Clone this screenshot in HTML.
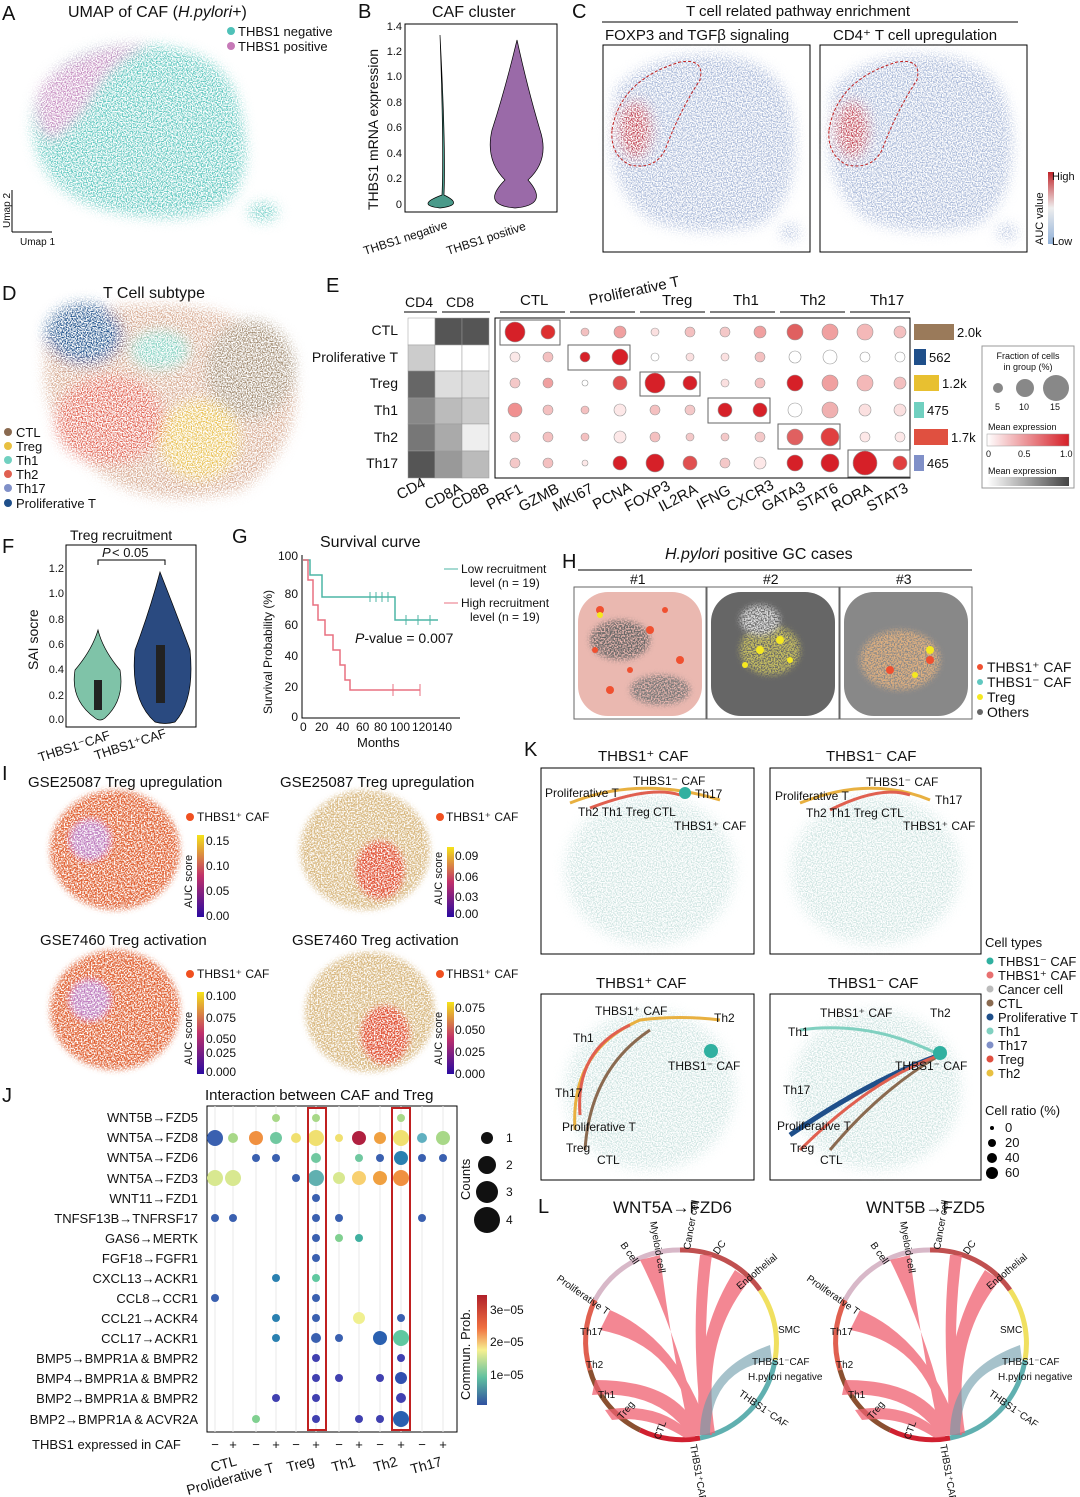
<!DOCTYPE html>
<html><head><meta charset="utf-8"><style>
html,body{margin:0;padding:0;background:#fff}
svg{display:block;font-family:"Liberation Sans",sans-serif}
</style></head><body>
<svg width="1080" height="1497" viewBox="0 0 1080 1497" xmlns="http://www.w3.org/2000/svg">
<defs>
<filter id="bl" x="-20%" y="-20%" width="140%" height="140%"><feGaussianBlur stdDeviation="6" result="b"/><feTurbulence type="fractalNoise" baseFrequency="0.8" numOctaves="1" seed="3" result="n"/><feColorMatrix in="n" type="matrix" values="0 0 0 0 0  0 0 0 0 0  0 0 0 0 0  0 0 0 4 -1.6" result="m"/><feComposite in="b" in2="m" operator="in"/></filter>
<filter id="bl2"><feGaussianBlur stdDeviation="3" result="b"/><feTurbulence type="fractalNoise" baseFrequency="0.7" numOctaves="1" seed="5" result="n"/><feColorMatrix in="n" type="matrix" values="0 0 0 0 0  0 0 0 0 0  0 0 0 0 0  0 0 0 4 -1.4" result="m"/><feComposite in="b" in2="m" operator="in"/></filter>
<linearGradient id="rb" x1="0" y1="0" x2="0" y2="1"><stop offset="0" stop-color="#c0242a"/><stop offset="0.5" stop-color="#eee"/><stop offset="1" stop-color="#8fb0d8"/></linearGradient>
<linearGradient id="pl" x1="0" y1="0" x2="0" y2="1"><stop offset="0" stop-color="#f5e31a"/><stop offset="0.5" stop-color="#c0306a"/><stop offset="1" stop-color="#2a0aa0"/></linearGradient>
<linearGradient id="sp" x1="0" y1="0" x2="0" y2="1"><stop offset="0" stop-color="#b0202a"/><stop offset="0.3" stop-color="#f07040"/><stop offset="0.5" stop-color="#f7f090"/><stop offset="0.75" stop-color="#60c0a0"/><stop offset="1" stop-color="#3050a0"/></linearGradient>
<linearGradient id="me" x1="0" x2="1"><stop offset="0" stop-color="#fff"/><stop offset="1" stop-color="#d62028"/></linearGradient>
<linearGradient id="mg" x1="0" x2="1"><stop offset="0" stop-color="#fff"/><stop offset="1" stop-color="#444"/></linearGradient>
</defs>
<g font-size="13" fill="#111">
<!-- A -->
<text x="2" y="20" font-size="20">A</text>
<text x="68" y="17" font-size="16">UMAP of CAF (<tspan font-style="italic">H.pylori</tspan>+)</text>
<circle cx="231" cy="31" r="4" fill="#4fc1b8"/><text x="238" y="36">THBS1 negative</text>
<circle cx="231" cy="46" r="4" fill="#c77ab8"/><text x="238" y="51">THBS1 positive</text>
<g filter="url(#bl)">
<path d="M40 90 Q70 40 150 45 Q230 50 240 110 Q255 170 230 200 Q200 225 130 215 Q60 205 40 160 Q25 120 40 90Z" fill="#5cc6be"/>
<path d="M40 90 Q70 45 150 45 Q110 60 90 100 Q70 130 50 140 Q30 120 40 90Z" fill="#c58ac0"/>
<ellipse cx="263" cy="212" rx="15" ry="9" fill="#5cc6be"/>
</g>
<path d="M12 232 V190 M12 232 H52" stroke="#000" fill="none"/>
<text x="10" y="228" font-size="10" transform="rotate(-90 10 228)">Umap 2</text><text x="20" y="245" font-size="10">Umap 1</text>
<!-- B -->
<text x="358" y="18" font-size="20">B</text><text x="432" y="17" font-size="16">CAF cluster</text>
<rect x="405" y="24" width="152" height="188" fill="none" stroke="#000"/>
<text x="378" y="210" font-size="14" transform="rotate(-90 378 210)">THBS1 mRNA expression</text>
<g font-size="11" text-anchor="end"><text x="402" y="208">0</text><text x="402" y="182">0.2</text><text x="402" y="157">0.4</text><text x="402" y="131">0.6</text><text x="402" y="106">0.8</text><text x="402" y="80">1.0</text><text x="402" y="55">1.2</text><text x="402" y="30">1.4</text></g>
<path d="M440 35 Q444 150 442 195 Q415 205 440 208 Q465 205 444 195 Q446 150 440 35Z" fill="#4a9a8a" stroke="#000" stroke-width=".7"/>
<path d="M517 40 Q505 90 492 130 Q485 160 505 180 Q480 205 515 208 Q550 205 528 180 Q550 160 540 130 Q528 90 517 40Z" fill="#9a6aa8" stroke="#000" stroke-width=".7"/>
<text x="365" y="255" font-size="12" transform="rotate(-18 365 255)">THBS1 negative</text>
<text x="448" y="255" font-size="12" transform="rotate(-18 448 255)">THBS1 positive</text>
<!-- C -->
<text x="572" y="18" font-size="20">C</text><text x="686" y="16" font-size="15">T cell related pathway enrichment</text>
<line x1="602" y1="22" x2="1018" y2="22" stroke="#000"/>
<text x="605" y="40" font-size="15">FOXP3 and TGFβ signaling</text><text x="833" y="40" font-size="15">CD4⁺ T cell upregulation</text>
<g>
<rect x="603" y="45" width="207" height="207" fill="none" stroke="#000"/>
<rect x="820" y="45" width="207" height="207" fill="none" stroke="#000"/>
<g filter="url(#bl)">
<path d="M615 90 Q650 50 720 55 Q790 60 795 130 Q800 200 760 225 Q700 240 650 220 Q610 190 612 140Z" fill="#a8b8d8"/>
<path d="M832 90 Q867 50 937 55 Q1007 60 1012 130 Q1017 200 977 225 Q917 240 867 220 Q827 190 829 140Z" fill="#a8b8d8"/>
<ellipse cx="635" cy="130" rx="18" ry="30" fill="#c04050"/><ellipse cx="852" cy="130" rx="18" ry="30" fill="#c04050"/>
<ellipse cx="790" cy="232" rx="10" ry="8" fill="#a8b8d8"/><ellipse cx="1007" cy="232" rx="10" ry="8" fill="#a8b8d8"/>
</g>
<path d="M612 130 Q620 80 680 62 Q705 58 700 80 Q680 110 665 150 Q655 170 630 165 Q610 155 612 130Z" fill="none" stroke="#c02020" stroke-dasharray="3 2"/>
<path d="M829 130 Q837 80 897 62 Q922 58 917 80 Q897 110 882 150 Q872 170 847 165 Q827 155 829 130Z" fill="none" stroke="#c02020" stroke-dasharray="3 2"/>
<rect x="1048" y="172" width="6" height="72" fill="url(#rb)"/>
<text x="1052" y="180" font-size="11">High</text><text x="1052" y="245" font-size="11">Low</text>
<text x="1043" y="245" font-size="11" transform="rotate(-90 1043 245)">AUC value</text>
</g>
<!-- D -->
<text x="2" y="300" font-size="20">D</text><text x="103" y="298" font-size="16">T Cell subtype</text>
<g filter="url(#bl)">
<path d="M45 340 Q80 300 170 305 Q270 310 295 380 Q300 450 240 490 Q160 510 110 480 Q50 440 45 380Z" fill="#d4a58a"/>
<ellipse cx="85" cy="335" rx="40" ry="32" fill="#1f4f8a"/>
<ellipse cx="250" cy="370" rx="45" ry="50" fill="#a08a70"/>
<ellipse cx="200" cy="440" rx="40" ry="40" fill="#e8c050"/>
<ellipse cx="110" cy="420" rx="55" ry="45" fill="#e06050"/>
<ellipse cx="160" cy="350" rx="30" ry="20" fill="#80d0c0"/>
</g>
<g font-size="13"><circle cx="8" cy="432" r="4" fill="#8a6a50"/><text x="16" y="437">CTL</text>
<circle cx="8" cy="446" r="4" fill="#e8c040"/><text x="16" y="451">Treg</text>
<circle cx="8" cy="460" r="4" fill="#70d0c0"/><text x="16" y="465">Th1</text>
<circle cx="8" cy="474" r="4" fill="#e06050"/><text x="16" y="479">Th2</text>
<circle cx="8" cy="488" r="4" fill="#8090c8"/><text x="16" y="493">Th17</text>
<circle cx="8" cy="503" r="4" fill="#1f4f8a"/><text x="16" y="508">Proliferative T</text></g>
<!-- E -->
<text x="326" y="292" font-size="20">E</text>
<text x="405" y="307" font-size="14">CD4</text><text x="446" y="307" font-size="14">CD8</text>
<line x1="404" y1="312" x2="437" y2="312" stroke="#000"/><line x1="442" y1="312" x2="490" y2="312" stroke="#000"/>
<g font-size="14" text-anchor="end"><text x="398" y="335">CTL</text><text x="398" y="362">Proliferative T</text><text x="398" y="388">Treg</text><text x="398" y="415">Th1</text><text x="398" y="442">Th2</text><text x="398" y="468">Th17</text></g>
<g stroke="#999" stroke-width=".5">
<rect x="408" y="318" width="27" height="27" fill="#fff"/><rect x="435" y="318" width="27" height="27" fill="#555"/><rect x="462" y="318" width="27" height="27" fill="#555"/>
<rect x="408" y="345" width="27" height="26" fill="#ccc"/><rect x="435" y="345" width="27" height="26" fill="#fff"/><rect x="462" y="345" width="27" height="26" fill="#fff"/>
<rect x="408" y="371" width="27" height="27" fill="#666"/><rect x="435" y="371" width="27" height="27" fill="#ddd"/><rect x="462" y="371" width="27" height="27" fill="#ddd"/>
<rect x="408" y="398" width="27" height="26" fill="#888"/><rect x="435" y="398" width="27" height="26" fill="#bbb"/><rect x="462" y="398" width="27" height="26" fill="#ccc"/>
<rect x="408" y="424" width="27" height="27" fill="#777"/><rect x="435" y="424" width="27" height="27" fill="#aaa"/><rect x="462" y="424" width="27" height="27" fill="#eee"/>
<rect x="408" y="451" width="27" height="27" fill="#555"/><rect x="435" y="451" width="27" height="27" fill="#999"/><rect x="462" y="451" width="27" height="27" fill="#bbb"/>
</g>
<rect x="495" y="318" width="415" height="160" fill="none" stroke="#000"/>
<g font-size="15"><text x="520" y="305">CTL</text><text x="590" y="305" transform="rotate(-12 590 305)">Proliferative T</text><text x="662" y="305">Treg</text><text x="733" y="305">Th1</text><text x="800" y="305">Th2</text><text x="870" y="305">Th17</text></g>
<g stroke="#000"><line x1="500" y1="312" x2="565" y2="312"/><line x1="570" y1="312" x2="635" y2="312"/><line x1="640" y1="312" x2="705" y2="312"/><line x1="710" y1="312" x2="775" y2="312"/><line x1="780" y1="312" x2="845" y2="312"/><line x1="850" y1="312" x2="910" y2="312"/></g>
<g stroke="#999" stroke-width=".6">
<circle cx="515" cy="332" r="10" fill="#d62028"/><circle cx="548" cy="332" r="7" fill="#dd3030"/><circle cx="585" cy="332" r="4" fill="#f3c0c0"/><circle cx="620" cy="332" r="6" fill="#f0a0a0"/><circle cx="655" cy="332" r="4" fill="#fbe0e0"/><circle cx="690" cy="332" r="5" fill="#f4c0c0"/><circle cx="725" cy="332" r="5" fill="#f4c8c8"/><circle cx="760" cy="332" r="6" fill="#f0a0a0"/><circle cx="795" cy="332" r="8" fill="#e06060"/><circle cx="830" cy="332" r="8" fill="#f0a0a0"/><circle cx="865" cy="332" r="8" fill="#f4b8b8"/><circle cx="900" cy="332" r="6" fill="#f4c0c0"/>
<circle cx="515" cy="357" r="5" fill="#fbe8e8"/><circle cx="548" cy="357" r="5" fill="#f4c0c0"/><circle cx="585" cy="357" r="5" fill="#d62028"/><circle cx="620" cy="357" r="8" fill="#d62028"/><circle cx="655" cy="357" r="4" fill="#fff"/><circle cx="690" cy="357" r="4" fill="#fbe0e0"/><circle cx="725" cy="357" r="4" fill="#fbe0e0"/><circle cx="760" cy="357" r="5" fill="#f4c0c0"/><circle cx="795" cy="357" r="6" fill="#fff"/><circle cx="830" cy="357" r="7" fill="#fff"/><circle cx="865" cy="357" r="5" fill="#fff"/><circle cx="900" cy="357" r="5" fill="#fff"/>
<circle cx="515" cy="383" r="5" fill="#f4c8c8"/><circle cx="548" cy="383" r="5" fill="#f0a0a0"/><circle cx="585" cy="383" r="3" fill="#fff"/><circle cx="620" cy="383" r="7" fill="#e05050"/><circle cx="655" cy="383" r="10" fill="#d62028"/><circle cx="690" cy="383" r="7" fill="#d62028"/><circle cx="725" cy="383" r="4" fill="#fbe0e0"/><circle cx="760" cy="383" r="5" fill="#f4c0c0"/><circle cx="795" cy="383" r="8" fill="#d62028"/><circle cx="830" cy="383" r="8" fill="#f0a0a0"/><circle cx="865" cy="383" r="8" fill="#f4b8b8"/><circle cx="900" cy="383" r="6" fill="#f4c0c0"/>
<circle cx="515" cy="410" r="7" fill="#f09090"/><circle cx="548" cy="410" r="5" fill="#f4c0c0"/><circle cx="585" cy="410" r="4" fill="#f4c0c0"/><circle cx="620" cy="410" r="6" fill="#fde8e8"/><circle cx="655" cy="410" r="5" fill="#f4c0c0"/><circle cx="690" cy="410" r="5" fill="#f4c8c8"/><circle cx="725" cy="410" r="7" fill="#d62028"/><circle cx="760" cy="410" r="7" fill="#d62028"/><circle cx="795" cy="410" r="7" fill="#fff"/><circle cx="830" cy="410" r="8" fill="#f0b0b0"/><circle cx="865" cy="410" r="6" fill="#fbe0e0"/><circle cx="900" cy="410" r="6" fill="#fbe0e0"/>
<circle cx="515" cy="437" r="5" fill="#f4c8c8"/><circle cx="548" cy="437" r="5" fill="#f4c0c0"/><circle cx="585" cy="437" r="4" fill="#f4c0c0"/><circle cx="620" cy="437" r="6" fill="#fde8e8"/><circle cx="655" cy="437" r="5" fill="#f4c0c0"/><circle cx="690" cy="437" r="4" fill="#f4c8c8"/><circle cx="725" cy="437" r="4" fill="#f4c8c8"/><circle cx="760" cy="437" r="5" fill="#f4c8c8"/><circle cx="795" cy="437" r="8" fill="#e06060"/><circle cx="830" cy="437" r="9" fill="#e04040"/><circle cx="865" cy="437" r="5" fill="#fde8e8"/><circle cx="900" cy="437" r="5" fill="#fde8e8"/>
<circle cx="515" cy="463" r="5" fill="#f4c8c8"/><circle cx="548" cy="463" r="5" fill="#f4c0c0"/><circle cx="585" cy="463" r="3" fill="#fde8e8"/><circle cx="620" cy="463" r="7" fill="#d62028"/><circle cx="655" cy="463" r="9" fill="#d62028"/><circle cx="690" cy="463" r="7" fill="#e05050"/><circle cx="725" cy="463" r="5" fill="#f4c8c8"/><circle cx="760" cy="463" r="6" fill="#fde8e8"/><circle cx="795" cy="463" r="8" fill="#d62028"/><circle cx="830" cy="463" r="9" fill="#d62028"/><circle cx="865" cy="463" r="12" fill="#d62028"/><circle cx="900" cy="463" r="7" fill="#e04040"/>
</g>
<g fill="none" stroke="#666"><rect x="500" y="320" width="60" height="25"/><rect x="568" y="345" width="62" height="25"/><rect x="640" y="372" width="60" height="24"/><rect x="708" y="398" width="62" height="25"/><rect x="778" y="424" width="62" height="25"/><rect x="848" y="450" width="62" height="27"/></g>
<g font-size="15">
<text x="400" y="500" transform="rotate(-28 400 500)">CD4</text><text x="428" y="510" transform="rotate(-28 428 510)">CD8A</text><text x="455" y="510" transform="rotate(-28 455 510)">CD8B</text>
<text x="490" y="510" transform="rotate(-28 490 510)">PRF1</text><text x="522" y="512" transform="rotate(-28 522 512)">GZMB</text><text x="556" y="512" transform="rotate(-28 556 512)">MKI67</text><text x="596" y="510" transform="rotate(-28 596 510)">PCNA</text><text x="628" y="512" transform="rotate(-28 628 512)">FOXP3</text><text x="662" y="512" transform="rotate(-28 662 512)">IL2RA</text><text x="700" y="510" transform="rotate(-28 700 510)">IFNG</text><text x="730" y="512" transform="rotate(-28 730 512)">CXCR3</text><text x="765" y="512" transform="rotate(-28 765 512)">GATA3</text><text x="800" y="512" transform="rotate(-28 800 512)">STAT6</text><text x="835" y="512" transform="rotate(-28 835 512)">RORA</text><text x="870" y="512" transform="rotate(-28 870 512)">STAT3</text>
</g>
<rect x="914" y="324" width="40" height="16" fill="#9a7a5a"/><rect x="914" y="349" width="12" height="16" fill="#1f4f8a"/><rect x="914" y="375" width="25" height="16" fill="#e8c030"/><rect x="914" y="402" width="10" height="16" fill="#70d0c0"/><rect x="914" y="429" width="34" height="16" fill="#e05040"/><rect x="914" y="455" width="10" height="16" fill="#8090c8"/>
<g font-size="13"><text x="957" y="337">2.0k</text><text x="929" y="362">562</text><text x="942" y="388">1.2k</text><text x="927" y="415">475</text><text x="951" y="442">1.7k</text><text x="927" y="468">465</text></g>
<rect x="982" y="346" width="92" height="142" fill="none" stroke="#999"/>
<g font-size="9" text-anchor="middle"><text x="1028" y="359">Fraction of cells</text><text x="1028" y="370">in group (%)</text></g>
<circle cx="998" cy="388" r="5" fill="#888"/><circle cx="1025" cy="388" r="9" fill="#888"/><circle cx="1056" cy="388" r="13" fill="#888"/>
<g font-size="9"><text x="995" y="410">5</text><text x="1019" y="410">10</text><text x="1050" y="410">15</text><text x="988" y="430">Mean expression</text><text x="986" y="457">0</text><text x="1018" y="457">0.5</text><text x="1060" y="457">1.0</text><text x="988" y="474">Mean expression</text></g>
<rect x="987" y="434" width="82" height="12" fill="url(#me)" stroke="#999" stroke-width=".5"/>
<rect x="987" y="477" width="82" height="9" fill="url(#mg)"/>
<!-- F -->
<text x="2" y="553" font-size="20">F</text><text x="70" y="540" font-size="14">Treg recruitment</text>
<text x="102" y="557" font-size="13" font-style="italic">P</text><text x="112" y="557" font-size="13"> &lt; 0.05</text>
<path d="M98 565 V560 H165 V565" stroke="#000" fill="none"/>
<rect x="66" y="545" width="130" height="182" fill="none" stroke="#000"/>
<text x="38" y="670" font-size="14" transform="rotate(-90 38 670)">SAI socre</text>
<g font-size="11" text-anchor="end"><text x="64" y="723">0.0</text><text x="64" y="699">0.2</text><text x="64" y="673">0.4</text><text x="64" y="648">0.6</text><text x="64" y="623">0.8</text><text x="64" y="597">1.0</text><text x="64" y="572">1.2</text></g>
<path d="M98 630 Q92 650 75 670 Q70 700 95 718 Q100 722 105 718 Q125 700 120 670 Q103 650 98 630Z" fill="#7fc3a8" stroke="#000" stroke-width=".7"/>
<rect x="94" y="680" width="8" height="30" fill="#222"/>
<path d="M160 572 Q150 610 135 650 Q130 700 155 722 Q165 725 175 722 Q195 700 190 650 Q175 610 160 572Z" fill="#2a4a80" stroke="#000" stroke-width=".7"/>
<rect x="156" y="645" width="9" height="58" fill="#222"/>
<text x="40" y="762" font-size="13" transform="rotate(-18 40 762)">THBS1⁻CAF</text><text x="96" y="760" font-size="13" transform="rotate(-18 96 760)">THBS1⁺CAF</text>
<!-- G -->
<text x="232" y="543" font-size="20">G</text><text x="320" y="547" font-size="16">Survival curve</text>
<path d="M302 555 V718 H460" stroke="#000" fill="none"/>
<g font-size="12" text-anchor="end"><text x="298" y="560">100</text><text x="298" y="598">80</text><text x="298" y="629">60</text><text x="298" y="660">40</text><text x="298" y="691">20</text><text x="298" y="721">0</text></g>
<text x="272" y="714" font-size="12" transform="rotate(-90 272 714)">Survival Probability (%)</text>
<g font-size="12"><text x="300" y="731">0</text><text x="315" y="731">20</text><text x="336" y="731">40</text><text x="356" y="731">60</text><text x="374" y="731">80</text><text x="390" y="731">100</text><text x="412" y="731">120</text><text x="432" y="731">140</text></g>
<text x="357" y="747" font-size="13">Months</text>
<path d="M303 560 H310 V575 H322 V597 H395 V620 H438" stroke="#4db5a5" fill="none" stroke-width="1.5"/>
<path d="M370 592 V602 M376 592 V602 M382 592 V602 M388 592 V602 M406 615 V625 M418 615 V625 M430 615 V625" stroke="#4db5a5"/>
<path d="M303 560 H308 V580 H313 V605 H318 V620 H325 V635 H333 V650 H340 V665 H345 V680 H350 V690 H380 V690 H420" stroke="#e87080" fill="none" stroke-width="1.5"/>
<path d="M393 684 V696 M420 684 V696" stroke="#e87080"/>
<text x="355" y="643" font-size="14"><tspan font-style="italic">P</tspan>-value = 0.007</text>
<line x1="444" y1="569" x2="458" y2="569" stroke="#4db5a5"/><text x="461" y="573" font-size="12">Low recruitment</text><text x="470" y="587" font-size="12">level (n = 19)</text>
<line x1="444" y1="603" x2="458" y2="603" stroke="#e87080"/><text x="461" y="607" font-size="12">High recruitment</text><text x="470" y="621" font-size="12">level (n = 19)</text>
<!-- H -->
<text x="562" y="568" font-size="20">H</text><text x="665" y="559" font-size="16" font-style="italic">H.pylori <tspan font-style="normal">positive GC cases</tspan></text>
<line x1="578" y1="570" x2="972" y2="570" stroke="#000"/>
<text x="630" y="584" font-size="14">#1</text><text x="763" y="584" font-size="14">#2</text><text x="896" y="584" font-size="14">#3</text>
<rect x="574" y="587" width="132" height="132" fill="none" stroke="#666"/><rect x="707" y="587" width="132" height="132" fill="none" stroke="#666"/><rect x="840" y="587" width="132" height="132" fill="none" stroke="#666"/>
<rect x="578" y="592" width="124" height="124" rx="30" fill="#eab8b0"/><rect x="711" y="592" width="124" height="124" rx="30" fill="#666"/><rect x="844" y="592" width="124" height="124" rx="30" fill="#888"/>
<g filter="url(#bl2)"><ellipse cx="620" cy="640" rx="30" ry="20" fill="#666"/><ellipse cx="660" cy="690" rx="30" ry="15" fill="#777"/><ellipse cx="770" cy="650" rx="30" ry="25" fill="#c8c060"/><ellipse cx="900" cy="660" rx="40" ry="30" fill="#e0b080"/><ellipse cx="760" cy="620" rx="20" ry="15" fill="#ddd"/></g>
<g fill="#f05030"><circle cx="600" cy="610" r="4"/><circle cx="650" cy="630" r="4"/><circle cx="680" cy="660" r="4"/><circle cx="610" cy="690" r="4"/><circle cx="630" cy="670" r="3"/><circle cx="890" cy="670" r="4"/><circle cx="930" cy="660" r="4"/><circle cx="665" cy="610" r="3"/><circle cx="595" cy="650" r="3"/></g>
<g fill="#f5e820"><circle cx="760" cy="650" r="4"/><circle cx="780" cy="640" r="4"/><circle cx="790" cy="660" r="3"/><circle cx="930" cy="650" r="4"/><circle cx="600" cy="615" r="3"/><circle cx="745" cy="665" r="3"/><circle cx="915" cy="675" r="3"/></g>
<g font-size="14"><circle cx="980" cy="667" r="3" fill="#f05030"/><text x="987" y="672">THBS1⁺ CAF</text><circle cx="980" cy="682" r="3" fill="#60c8c0"/><text x="987" y="687">THBS1⁻ CAF</text><circle cx="980" cy="697" r="3" fill="#f5e820"/><text x="987" y="702">Treg</text><circle cx="980" cy="712" r="3" fill="#666"/><text x="987" y="717">Others</text></g>
<!-- I -->
<text x="2" y="780" font-size="20">I</text>
<g font-size="15"><text x="28" y="787">GSE25087 Treg upregulation</text><text x="280" y="787">GSE25087 Treg upregulation</text><text x="40" y="945">GSE7460 Treg activation</text><text x="292" y="945">GSE7460 Treg activation</text></g>
<g filter="url(#bl2)">
<ellipse cx="115" cy="850" rx="65" ry="60" fill="#e06030"/><ellipse cx="365" cy="850" rx="65" ry="60" fill="#d8b880"/>
<ellipse cx="115" cy="1010" rx="65" ry="60" fill="#e06030"/><ellipse cx="370" cy="1012" rx="65" ry="60" fill="#d8b880"/>
<ellipse cx="380" cy="870" rx="25" ry="30" fill="#e05030"/><ellipse cx="385" cy="1035" rx="25" ry="30" fill="#e05030"/>
<ellipse cx="90" cy="840" rx="20" ry="20" fill="#c080c0"/><ellipse cx="90" cy="1000" rx="20" ry="20" fill="#c080c0"/>
</g>
<g font-size="12"><circle cx="190" cy="817" r="4" fill="#f05020"/><text x="197" y="821">THBS1⁺ CAF</text><circle cx="440" cy="817" r="4" fill="#f05020"/><text x="446" y="821">THBS1⁺ CAF</text>
<circle cx="190" cy="974" r="4" fill="#f05020"/><text x="197" y="978">THBS1⁺ CAF</text><circle cx="440" cy="974" r="4" fill="#f05020"/><text x="446" y="978">THBS1⁺ CAF</text></g>
<rect x="197" y="835" width="7" height="82" fill="url(#pl)"/><rect x="447" y="847" width="7" height="70" fill="url(#pl)"/>
<rect x="197" y="992" width="7" height="82" fill="url(#pl)"/><rect x="447" y="1002" width="7" height="72" fill="url(#pl)"/>
<g font-size="12"><text x="206" y="845">0.15</text><text x="206" y="870">0.10</text><text x="206" y="895">0.05</text><text x="206" y="920">0.00</text>
<text x="455" y="860">0.09</text><text x="455" y="881">0.06</text><text x="455" y="901">0.03</text><text x="455" y="918">0.00</text>
<text x="206" y="1000">0.100</text><text x="206" y="1022">0.075</text><text x="206" y="1043">0.050</text><text x="206" y="1057">0.025</text><text x="206" y="1076">0.000</text>
<text x="455" y="1012">0.075</text><text x="455" y="1034">0.050</text><text x="455" y="1056">0.025</text><text x="455" y="1078">0.000</text></g>
<g font-size="11"><text x="192" y="908" transform="rotate(-90 192 908)">AUC score</text><text x="442" y="905" transform="rotate(-90 442 905)">AUC score</text><text x="192" y="1065" transform="rotate(-90 192 1065)">AUC score</text><text x="442" y="1065" transform="rotate(-90 442 1065)">AUC score</text></g>
<!-- K -->
<text x="524" y="756" font-size="20">K</text>
<g font-size="15"><text x="598" y="761">THBS1⁺ CAF</text><text x="826" y="761">THBS1⁻ CAF</text><text x="596" y="988">THBS1⁺ CAF</text><text x="828" y="988">THBS1⁻ CAF</text></g>
<rect x="541" y="768" width="213" height="186" fill="none" stroke="#000"/><rect x="770" y="768" width="211" height="186" fill="none" stroke="#000"/>
<rect x="541" y="994" width="213" height="186" fill="none" stroke="#000"/><rect x="770" y="994" width="211" height="186" fill="none" stroke="#000"/>
<g filter="url(#bl)" opacity=".7"><ellipse cx="650" cy="870" rx="85" ry="75" fill="#b8d8d4"/><ellipse cx="876" cy="870" rx="85" ry="75" fill="#b8d8d4"/><ellipse cx="650" cy="1090" rx="85" ry="80" fill="#b8d8d4"/><ellipse cx="876" cy="1090" rx="85" ry="80" fill="#b8d8d4"/></g>
<g fill="none" stroke-width="3">
<path d="M570 803 Q640 775 720 800" stroke="#e8b040"/><path d="M590 808 Q650 785 680 795" stroke="#e06050"/><path d="M800 803 Q870 775 930 800" stroke="#e8b040"/><path d="M830 810 Q880 785 910 795" stroke="#e06050"/>
<path d="M575 1130 Q570 1050 640 1020 Q680 1015 720 1020" stroke="#e8b040"/><path d="M585 1150 Q590 1070 650 1030" stroke="#8a6a50"/><path d="M580 1115 Q575 1050 630 1025" stroke="#e06050"/>
<path d="M790 1135 Q870 1080 940 1055" stroke="#1f4f8a" stroke-width="5"/><path d="M830 1150 Q880 1090 940 1055" stroke="#8a6a50"/><path d="M800 1150 Q870 1080 940 1055" stroke="#e06050"/><path d="M800 1030 Q870 1020 940 1055" stroke="#80d0c0"/>
</g>
<circle cx="685" cy="793" r="6" fill="#30b0a0"/><circle cx="711" cy="1051" r="7" fill="#30b0a0"/><circle cx="940" cy="1053" r="7" fill="#30b0a0"/>
<g font-size="12"><text x="545" y="797">Proliferative T</text><text x="633" y="785">THBS1⁻ CAF</text><text x="695" y="798">Th17</text><text x="578" y="816">Th2  Th1  Treg  CTL</text><text x="674" y="830">THBS1⁺ CAF</text>
<text x="775" y="800">Proliferative T</text><text x="866" y="786">THBS1⁻ CAF</text><text x="935" y="804">Th17</text><text x="806" y="817">Th2 Th1   Treg   CTL</text><text x="903" y="830">THBS1⁺ CAF</text>
<text x="595" y="1015">THBS1⁺ CAF</text><text x="714" y="1022">Th2</text><text x="573" y="1042">Th1</text><text x="668" y="1070">THBS1⁻ CAF</text><text x="555" y="1097">Th17</text><text x="562" y="1131">Proliferative T</text><text x="566" y="1152">Treg</text><text x="597" y="1164">CTL</text>
<text x="820" y="1017">THBS1⁺ CAF</text><text x="930" y="1017">Th2</text><text x="788" y="1036">Th1</text><text x="895" y="1070">THBS1⁻ CAF</text><text x="783" y="1094">Th17</text><text x="777" y="1130">Proliferative T</text><text x="790" y="1152">Treg</text><text x="820" y="1164">CTL</text></g>
<g font-size="13"><text x="985" y="947">Cell types</text>
<circle cx="990" cy="961" r="3.5" fill="#30b0a0"/><text x="998" y="966">THBS1⁻ CAF</text>
<circle cx="990" cy="975" r="3.5" fill="#e87070"/><text x="998" y="980">THBS1⁺ CAF</text>
<circle cx="990" cy="989" r="3.5" fill="#bbb"/><text x="998" y="994">Cancer cell</text>
<circle cx="990" cy="1003" r="3.5" fill="#8a6a50"/><text x="998" y="1008">CTL</text>
<circle cx="990" cy="1017" r="3.5" fill="#1f4f8a"/><text x="998" y="1022">Proliferative T</text>
<circle cx="990" cy="1031" r="3.5" fill="#80d0c0"/><text x="998" y="1036">Th1</text>
<circle cx="990" cy="1045" r="3.5" fill="#8090c8"/><text x="998" y="1050">Th17</text>
<circle cx="990" cy="1059" r="3.5" fill="#e05040"/><text x="998" y="1064">Treg</text>
<circle cx="990" cy="1073" r="3.5" fill="#e8c040"/><text x="998" y="1078">Th2</text>
<text x="985" y="1115">Cell ratio (%)</text>
<circle cx="992" cy="1128" r="2" fill="#000"/><text x="1005" y="1132">0</text>
<circle cx="992" cy="1143" r="4" fill="#000"/><text x="1005" y="1147">20</text>
<circle cx="992" cy="1158" r="5" fill="#000"/><text x="1005" y="1162">40</text>
<circle cx="992" cy="1173" r="6" fill="#000"/><text x="1005" y="1177">60</text></g>
<!-- J -->
<text x="2" y="1102" font-size="20">J</text><text x="205" y="1100" font-size="15">Interaction between CAF and Treg</text>
<rect x="207" y="1106" width="250" height="326" fill="none" stroke="#000"/>
<g stroke="#e8e8e8"><line x1="215" y1="1106" x2="215" y2="1432"/><line x1="233" y1="1106" x2="233" y2="1432"/><line x1="256" y1="1106" x2="256" y2="1432"/><line x1="276" y1="1106" x2="276" y2="1432"/><line x1="296" y1="1106" x2="296" y2="1432"/><line x1="316" y1="1106" x2="316" y2="1432"/><line x1="339" y1="1106" x2="339" y2="1432"/><line x1="359" y1="1106" x2="359" y2="1432"/><line x1="380" y1="1106" x2="380" y2="1432"/><line x1="401" y1="1106" x2="401" y2="1432"/><line x1="422" y1="1106" x2="422" y2="1432"/><line x1="443" y1="1106" x2="443" y2="1432"/></g>
<g font-size="13" text-anchor="end"><text x="198" y="1122">WNT5B→FZD5</text><text x="198" y="1142">WNT5A→FZD8</text><text x="198" y="1162">WNT5A→FZD6</text><text x="198" y="1183">WNT5A→FZD3</text><text x="198" y="1203">WNT11→FZD1</text><text x="198" y="1223">TNFSF13B→TNFRSF17</text><text x="198" y="1243">GAS6→MERTK</text><text x="198" y="1263">FGF18→FGFR1</text><text x="198" y="1283">CXCL13→ACKR1</text><text x="198" y="1303">CCL8→CCR1</text><text x="198" y="1323">CCL21→ACKR4</text><text x="198" y="1343">CCL17→ACKR1</text><text x="198" y="1363">BMP5→BMPR1A &amp; BMPR2</text><text x="198" y="1383">BMP4→BMPR1A &amp; BMPR2</text><text x="198" y="1403">BMP2→BMPR1A &amp; BMPR2</text><text x="198" y="1424">BMP2→BMPR1A &amp; ACVR2A</text></g>
<g>
<circle cx="276" cy="1118" r="4" fill="#a8d888"/><circle cx="316" cy="1118" r="4" fill="#a8d888"/><circle cx="401" cy="1118" r="4" fill="#a8d888"/>
<circle cx="215" cy="1138" r="8" fill="#3a60b0"/><circle cx="233" cy="1138" r="5" fill="#a8d888"/><circle cx="256" cy="1138" r="7" fill="#f09040"/><circle cx="276" cy="1138" r="6" fill="#70c8a0"/><circle cx="296" cy="1138" r="5" fill="#f0e070"/><circle cx="316" cy="1138" r="8" fill="#f0e070"/><circle cx="339" cy="1138" r="4" fill="#f0e070"/><circle cx="359" cy="1138" r="7" fill="#b02040"/><circle cx="380" cy="1138" r="6" fill="#f0a040"/><circle cx="401" cy="1138" r="8" fill="#f0e070"/><circle cx="422" cy="1138" r="5" fill="#60b0c0"/><circle cx="443" cy="1138" r="7" fill="#a8d888"/>
<circle cx="256" cy="1158" r="4" fill="#3a60b0"/><circle cx="276" cy="1158" r="4" fill="#3a60b0"/><circle cx="316" cy="1158" r="5" fill="#70c8a0"/><circle cx="359" cy="1158" r="4" fill="#70c8a0"/><circle cx="380" cy="1158" r="4" fill="#3a60b0"/><circle cx="401" cy="1158" r="7" fill="#2a80b0"/><circle cx="422" cy="1158" r="4" fill="#3a60b0"/><circle cx="443" cy="1158" r="4" fill="#3a60b0"/>
<circle cx="215" cy="1178" r="8" fill="#d8e890"/><circle cx="233" cy="1178" r="8" fill="#d8e890"/><circle cx="296" cy="1178" r="4" fill="#3a60b0"/><circle cx="316" cy="1178" r="8" fill="#60b0b0"/><circle cx="339" cy="1178" r="6" fill="#d8e890"/><circle cx="359" cy="1178" r="7" fill="#f8d070"/><circle cx="380" cy="1178" r="7" fill="#f0a040"/><circle cx="401" cy="1178" r="8" fill="#f09040"/>
<circle cx="316" cy="1198" r="4" fill="#3a60b0"/>
<circle cx="215" cy="1218" r="4" fill="#3a60b0"/><circle cx="233" cy="1218" r="4" fill="#3a60b0"/><circle cx="316" cy="1218" r="4" fill="#3a60b0"/><circle cx="339" cy="1218" r="4" fill="#3a60b0"/><circle cx="422" cy="1218" r="4" fill="#3a60b0"/>
<circle cx="316" cy="1238" r="4" fill="#3a60b0"/><circle cx="339" cy="1238" r="4" fill="#80d090"/><circle cx="359" cy="1238" r="4" fill="#40b0a0"/>
<circle cx="316" cy="1258" r="4" fill="#3a60b0"/>
<circle cx="276" cy="1278" r="4" fill="#2a80b0"/><circle cx="316" cy="1278" r="4" fill="#60c8a0"/>
<circle cx="215" cy="1298" r="4" fill="#3a60b0"/><circle cx="316" cy="1298" r="4" fill="#3a60b0"/>
<circle cx="276" cy="1318" r="4" fill="#2a80b0"/><circle cx="316" cy="1318" r="4" fill="#3a60b0"/><circle cx="359" cy="1318" r="6" fill="#f0f090"/><circle cx="401" cy="1318" r="4" fill="#3a60b0"/>
<circle cx="276" cy="1338" r="4" fill="#2a80b0"/><circle cx="316" cy="1338" r="5" fill="#3a60b0"/><circle cx="339" cy="1338" r="4" fill="#3a60b0"/><circle cx="380" cy="1338" r="7" fill="#2a60b0"/><circle cx="401" cy="1338" r="8" fill="#60c8a0"/>
<circle cx="316" cy="1358" r="4" fill="#4040b0"/><circle cx="401" cy="1358" r="4" fill="#4040b0"/>
<circle cx="316" cy="1378" r="4" fill="#4040b0"/><circle cx="339" cy="1378" r="4" fill="#4040b0"/><circle cx="380" cy="1378" r="4" fill="#4040b0"/><circle cx="401" cy="1378" r="6" fill="#3050b0"/>
<circle cx="276" cy="1398" r="4" fill="#4040b0"/><circle cx="316" cy="1398" r="4" fill="#4040b0"/><circle cx="401" cy="1398" r="5" fill="#4040b0"/>
<circle cx="256" cy="1419" r="4" fill="#80d090"/><circle cx="316" cy="1419" r="4" fill="#4040b0"/><circle cx="359" cy="1419" r="4" fill="#4040b0"/><circle cx="380" cy="1419" r="4" fill="#4040b0"/><circle cx="401" cy="1419" r="8" fill="#2a60b0"/>
</g>
<rect x="308" y="1108" width="18" height="322" fill="none" stroke="#c02020" stroke-width="2"/><rect x="392" y="1108" width="18" height="322" fill="none" stroke="#c02020" stroke-width="2"/>
<text x="32" y="1449" font-size="13">THBS1 expressed in CAF</text>
<g font-size="13" text-anchor="middle"><text x="215" y="1449">−</text><text x="233" y="1449">+</text><text x="256" y="1449">−</text><text x="276" y="1449">+</text><text x="296" y="1449">−</text><text x="316" y="1449">+</text><text x="339" y="1449">−</text><text x="359" y="1449">+</text><text x="380" y="1449">−</text><text x="401" y="1449">+</text><text x="422" y="1449">−</text><text x="443" y="1449">+</text></g>
<g font-size="14"><text x="212" y="1472" transform="rotate(-15 212 1472)">CTL</text><text x="188" y="1495" transform="rotate(-15 188 1495)">Proliderative T</text><text x="288" y="1472" transform="rotate(-15 288 1472)">Treg</text><text x="333" y="1472" transform="rotate(-15 333 1472)">Th1</text><text x="375" y="1472" transform="rotate(-15 375 1472)">Th2</text><text x="412" y="1474" transform="rotate(-15 412 1474)">Th17</text></g>
<g><circle cx="487" cy="1138" r="6"/><circle cx="487" cy="1165" r="9"/><circle cx="487" cy="1192" r="11"/><circle cx="487" cy="1220" r="13"/></g>
<g font-size="12"><text x="506" y="1142">1</text><text x="506" y="1169">2</text><text x="506" y="1196">3</text><text x="506" y="1224">4</text></g>
<text x="470" y="1200" font-size="13" transform="rotate(-90 470 1200)">Counts</text>
<rect x="477" y="1295" width="10" height="110" fill="url(#sp)"/>
<g font-size="12"><text x="490" y="1314">3e−05</text><text x="490" y="1346">2e−05</text><text x="490" y="1379">1e−05</text></g>
<text x="470" y="1400" font-size="13" transform="rotate(-90 470 1400)">Commun. Prob.</text>
<!-- L -->
<text x="538" y="1213" font-size="20">L</text><text x="613" y="1213" font-size="17">WNT5A→FZD6</text><text x="866" y="1213" font-size="17">WNT5B→FZD5</text>
<g fill="none" stroke-width="5">
<path d="M595 1300 A95 95 0 0 1 680 1250" stroke="#d8b8c8"/><path d="M680 1250 A95 95 0 0 1 760 1290" stroke="#c05050"/><path d="M760 1290 A95 95 0 0 1 775 1360" stroke="#f0e060"/><path d="M775 1360 A95 95 0 0 1 700 1438" stroke="#60b0b0"/><path d="M700 1438 A95 95 0 0 1 640 1430" stroke="#d02030"/><path d="M640 1430 A95 95 0 0 1 590 1370" stroke="#8a5030"/><path d="M590 1370 A95 95 0 0 1 595 1300" stroke="#e06050"/>
<path d="M845 1300 A95 95 0 0 1 930 1250" stroke="#d8b8c8"/><path d="M930 1250 A95 95 0 0 1 1010 1290" stroke="#c05050"/><path d="M1010 1290 A95 95 0 0 1 1025 1360" stroke="#f0e060"/><path d="M1025 1360 A95 95 0 0 1 950 1438" stroke="#60b0b0"/><path d="M950 1438 A95 95 0 0 1 890 1430" stroke="#d02030"/><path d="M890 1430 A95 95 0 0 1 840 1370" stroke="#8a5030"/><path d="M840 1370 A95 95 0 0 1 845 1300" stroke="#e06050"/>
</g>
<g fill="#f06070" opacity=".75">
<path d="M600 1330 Q680 1345 695 1435 L710 1435 Q680 1340 610 1310Z"/><path d="M640 1260 Q680 1340 700 1435 L690 1435 Q670 1340 660 1255Z"/><path d="M735 1270 Q690 1340 700 1435 L715 1433 Q700 1340 750 1280Z"/><path d="M595 1380 Q680 1380 700 1435 L690 1437 Q660 1390 592 1395Z"/><path d="M605 1410 Q660 1400 695 1437 L685 1438 Q650 1415 612 1420Z"/><path d="M700 1255 Q690 1340 703 1435 L712 1435 Q700 1340 712 1255Z"/>
<path d="M850 1330 Q930 1345 945 1435 L960 1435 Q930 1340 860 1310Z"/><path d="M890 1260 Q930 1340 950 1435 L940 1435 Q920 1340 910 1255Z"/><path d="M985 1270 Q940 1340 950 1435 L965 1433 Q950 1340 1000 1280Z"/><path d="M845 1380 Q930 1380 950 1435 L940 1437 Q910 1390 842 1395Z"/><path d="M855 1410 Q910 1400 945 1437 L935 1438 Q900 1415 862 1420Z"/><path d="M950 1255 Q940 1340 953 1435 L962 1435 Q950 1340 962 1255Z"/>
</g>
<g fill="#6a9aa8" opacity=".6"><path d="M770 1345 Q700 1370 700 1435 L710 1435 Q710 1370 772 1360Z"/><path d="M1020 1345 Q950 1370 950 1435 L960 1435 Q960 1370 1022 1360Z"/></g>
<g font-size="10">
<text x="556" y="1280" transform="rotate(35 556 1280)">Proliferative T</text><text x="620" y="1245" transform="rotate(55 620 1245)">B cell</text><text x="650" y="1222" transform="rotate(80 650 1222)">Myeloid cell</text><text x="690" y="1250" transform="rotate(-80 690 1250)">Cancer cell</text><text x="718" y="1255" transform="rotate(-55 718 1255)">DC</text><text x="740" y="1290" transform="rotate(-40 740 1290)">Endothelial</text><text x="778" y="1333">SMC</text><text x="752" y="1365">THBS1⁻CAF</text><text x="748" y="1380">H.pylori negative</text><text x="738" y="1395" transform="rotate(35 738 1395)">THBS1⁻CAF</text><text x="580" y="1335">Th17</text><text x="586" y="1368">Th2</text><text x="598" y="1398">Th1</text><text x="622" y="1420" transform="rotate(-50 622 1420)">Treg</text><text x="660" y="1440" transform="rotate(-70 660 1440)">CTL</text><text x="690" y="1445" transform="rotate(80 690 1445)">THBS1⁺CAF</text>
<text x="806" y="1280" transform="rotate(35 806 1280)">Proliferative T</text><text x="870" y="1245" transform="rotate(55 870 1245)">B cell</text><text x="900" y="1222" transform="rotate(80 900 1222)">Myeloid cell</text><text x="940" y="1250" transform="rotate(-80 940 1250)">Cancer cell</text><text x="968" y="1255" transform="rotate(-55 968 1255)">DC</text><text x="990" y="1290" transform="rotate(-40 990 1290)">Endothelial</text><text x="1000" y="1333">SMC</text><text x="1002" y="1365">THBS1⁻CAF</text><text x="998" y="1380">H.pylori negative</text><text x="988" y="1395" transform="rotate(35 988 1395)">THBS1⁻CAF</text><text x="830" y="1335">Th17</text><text x="836" y="1368">Th2</text><text x="848" y="1398">Th1</text><text x="872" y="1420" transform="rotate(-50 872 1420)">Treg</text><text x="910" y="1440" transform="rotate(-70 910 1440)">CTL</text><text x="940" y="1445" transform="rotate(80 940 1445)">THBS1⁺CAF</text>
</g>
</g>
</svg>
</body></html>
